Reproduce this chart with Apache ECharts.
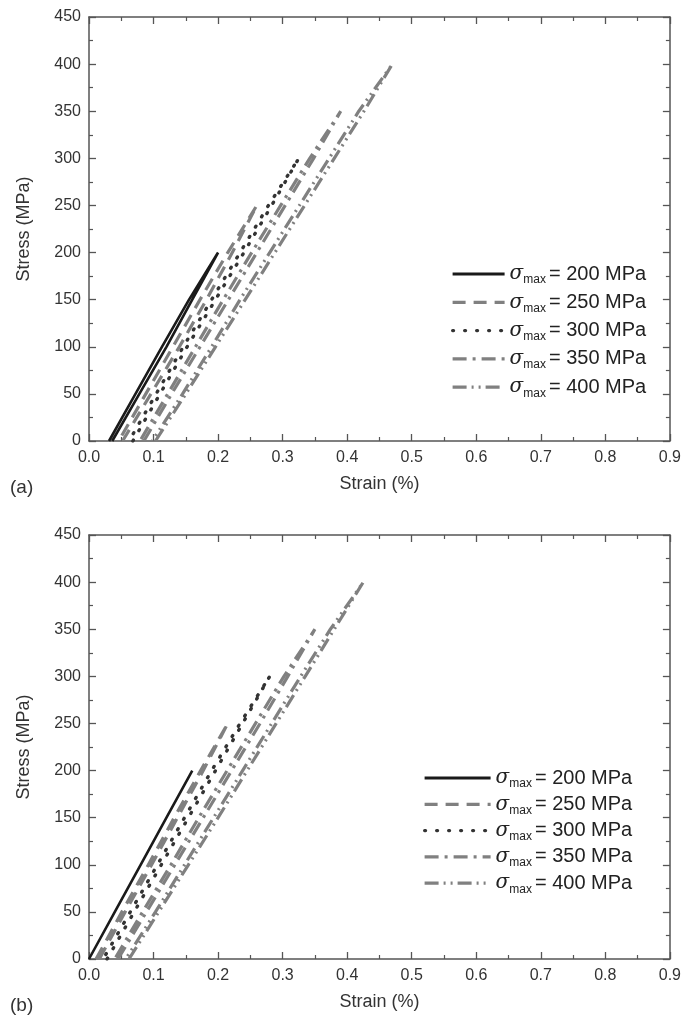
<!DOCTYPE html>
<html>
<head>
<meta charset="utf-8">
<script src="https://cdn.jsdelivr.net/npm/echarts@6/dist/echarts.min.js"></script>
<style>
html,body{margin:0;padding:0;background:#fff;}
#c{width:684px;height:1027px;}
</style>
</head>
<body>
<div id="c"></div>
<script>
// ---- data ----
const seriesNames = ['σmax = 200 MPa','σmax = 250 MPa','σmax = 300 MPa','σmax = 350 MPa','σmax = 400 MPa'];
const xTicks = [0,0.1,0.2,0.3,0.4,0.5,0.6,0.7,0.8,0.9];
const yTicks = [0,50,100,150,200,250,300,350,400,450];

// panel (a): [strain %, stress MPa] – loading then unloading
const a200 = [[0.036,0],[0.078,50],[0.12,100],[0.16,150],[0.2,200],[0.155,150],[0.113,100],[0.072,50],[0.031,0]];
const a250 = [[0.052,0],[0.096,50],[0.14,100],[0.182,150],[0.222,200],[0.26,250],[0.215,200],[0.172,150],[0.13,100],[0.088,50],[0.046,0]];
const a300 = [[0.068,0],[0.11,50],[0.152,100],[0.196,150],[0.24,200],[0.283,250],[0.325,300],[0.278,250],[0.234,200],[0.19,150],[0.146,100],[0.104,50],[0.062,0]];
const a350 = [[0.085,0],[0.128,50],[0.172,100],[0.216,150],[0.26,200],[0.304,250],[0.348,300],[0.39,350],[0.342,300],[0.297,250],[0.252,200],[0.208,150],[0.165,100],[0.122,50],[0.079,0]];
const a400 = [[0.103,0],[0.15,50],[0.196,100],[0.242,150],[0.288,200],[0.334,250],[0.38,300],[0.426,350],[0.47,400],[0.418,350],[0.372,300],[0.326,250],[0.28,200],[0.234,150],[0.19,100],[0.145,50],[0.098,0]];

// panel (b)
const b200 = [[0,0],[0.04,50],[0.08,100],[0.12,150],[0.16,200]];
const b250 = [[0.016,0],[0.056,50],[0.097,100],[0.137,150],[0.177,200],[0.215,250],[0.173,200],[0.132,150],[0.092,100],[0.051,50],[0.011,0]];
const b300 = [[0.028,0],[0.07,50],[0.112,100],[0.154,150],[0.196,200],[0.238,250],[0.28,300],[0.234,250],[0.19,200],[0.148,150],[0.106,100],[0.064,50],[0.022,0]];
const b350 = [[0.045,0],[0.089,50],[0.133,100],[0.177,150],[0.221,200],[0.265,250],[0.308,300],[0.35,350],[0.302,300],[0.258,250],[0.214,200],[0.17,150],[0.127,100],[0.083,50],[0.04,0]];
const b400 = [[0.062,0],[0.108,50],[0.154,100],[0.2,150],[0.245,200],[0.29,250],[0.335,300],[0.38,350],[0.425,400],[0.374,350],[0.328,300],[0.283,250],[0.238,200],[0.193,150],[0.148,100],[0.103,50],[0.057,0]];

// ---- styles ----
const FONT = 'Liberation Sans, Arial, sans-serif';
const AXC = '#555';
const styles = [
  {color:'#1a1a1a', width:2.6, type:'solid', cap:'butt'},
  {color:'#808080', width:3.2, type:[13,8], cap:'butt'},
  {color:'#333333', width:3.4, type:[1,11], cap:'round'},
  {color:'#808080', width:3.2, type:[14,6,3,6], cap:'butt'},
  {color:'#808080', width:3.2, type:[14,5,2,5,2,5], cap:'butt'}
];

function mkSeries(data, idx, axisIdx){
  const s = styles[idx];
  return {
    type:'line', name:seriesNames[idx], data:data,
    xAxisIndex:axisIdx, yAxisIndex:axisIdx,
    symbol:'none', animation:false, silent:true,
    lineStyle:{color:s.color, width:s.width, type:s.type, cap:s.cap},
    itemStyle:{color:s.color}
  };
}

function xAxisPair(gridIndex){
  return [
    {type:'value', gridIndex, position:'bottom', min:0, max:0.9, interval:0.1,
     axisLine:{show:true, onZero:false, lineStyle:{color:AXC, width:1.5}},
     axisTick:{show:true, inside:true, length:7, lineStyle:{color:AXC, width:1.3}},
     minorTick:{show:true, splitNumber:2, length:4, lineStyle:{color:AXC, width:1.2}},
     splitLine:{show:false},
     axisLabel:{color:'#333', fontSize:16, fontFamily:FONT, margin:9, formatter:v=>v.toFixed(1)},
     name:'Strain (%)', nameLocation:'middle', nameGap:34,
     nameTextStyle:{color:'#333', fontSize:18, fontFamily:FONT}},
    {type:'value', gridIndex, position:'top', min:0, max:0.9, interval:0.1,
     axisLine:{show:true, onZero:false, lineStyle:{color:AXC, width:1.5}},
     axisTick:{show:true, inside:true, length:7, lineStyle:{color:AXC, width:1.3}},
     minorTick:{show:true, splitNumber:2, length:4, lineStyle:{color:AXC, width:1.2}},
     splitLine:{show:false}, axisLabel:{show:false}}
  ];
}
function yAxisPair(gridIndex){
  return [
    {type:'value', gridIndex, position:'left', min:0, max:450, interval:50,
     axisLine:{show:true, onZero:false, lineStyle:{color:AXC, width:1.5}},
     axisTick:{show:true, inside:true, length:7, lineStyle:{color:AXC, width:1.3}},
     minorTick:{show:true, splitNumber:2, length:4, lineStyle:{color:AXC, width:1.2}},
     splitLine:{show:false},
     axisLabel:{color:'#333', fontSize:16, fontFamily:FONT, margin:8},
     name:'Stress (MPa)', nameLocation:'middle', nameGap:56, nameRotate:90,
     nameTextStyle:{color:'#333', fontSize:18, fontFamily:FONT}},
    {type:'value', gridIndex, position:'right', min:0, max:450, interval:50,
     axisLine:{show:true, onZero:false, lineStyle:{color:AXC, width:1.5}},
     axisTick:{show:true, inside:true, length:7, lineStyle:{color:AXC, width:1.3}},
     minorTick:{show:true, splitNumber:2, length:4, lineStyle:{color:AXC, width:1.2}},
     splitLine:{show:false}, axisLabel:{show:false}}
  ];
}

const rich = {
  s:{fontSize:20, fontStyle:'italic', fontFamily:'DejaVu Serif, serif', color:'#222', lineHeight:24, verticalAlign:'middle'},
  m:{fontSize:12, fontFamily:FONT, color:'#222', lineHeight:10, verticalAlign:'bottom', padding:[0,3,0,0]},
  t:{fontSize:20, fontFamily:FONT, color:'#222', lineHeight:24, verticalAlign:'middle'}
};
function legendFmt(n){ return '{s|σ}{m|max}{t|' + n.slice(5) + '}'; }

const chart = echarts.init(document.getElementById('c'), null, {renderer:'canvas'});
const legendBase = {orient:'vertical', itemHeight:14, data:seriesNames, formatter:legendFmt,
  textStyle:{rich}, selectedMode:false, itemStyle:{opacity:0}, lineStyle:{width:3.2}};
const option = {
  backgroundColor:'#fff',
  animation:false,
  grid:[
    {left:89, right:12, top:17, height:424},
    {left:89, right:12, top:535, height:424}
  ],
  xAxis:[...xAxisPair(0), ...xAxisPair(1)],
  yAxis:[...yAxisPair(0), ...yAxisPair(1)],
  legend:[
    Object.assign({}, legendBase, {left:446, top:259, itemWidth:52, itemGap:6.3}),
    Object.assign({}, legendBase, {left:418, top:763, itemWidth:66, itemGap:4.3})
  ],
  graphic:[
    {type:'text', left:10, top:478, style:{text:'(a)', fontSize:19, fontFamily:FONT, fill:'#333'}},
    {type:'text', left:10, top:996, style:{text:'(b)', fontSize:19, fontFamily:FONT, fill:'#333'}}
  ],
  series:[
    mkSeries(a200,0,0), mkSeries(a250,1,0), mkSeries(a300,2,0), mkSeries(a350,3,0), mkSeries(a400,4,0),
    mkSeries(b200,0,2), mkSeries(b250,1,2), mkSeries(b300,2,2), mkSeries(b350,3,2), mkSeries(b400,4,2)
  ]
};
chart.setOption(option);
</script>
</body>
</html>
